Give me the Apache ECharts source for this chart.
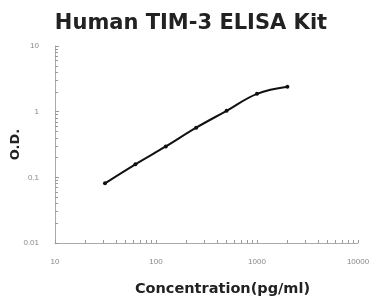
<!DOCTYPE html>
<html><head><meta charset="utf-8">
<script src="https://cdn.jsdelivr.net/npm/echarts@6/dist/echarts.min.js"></script>
<style>html,body{margin:0;padding:0;background:#fff}#c{width:381px;height:299px}</style>
</head><body><div id="c"></div>
<script>
const concentrations = [31.25, 62.5, 125, 250, 500, 1000, 2000];
const odValues = [0.081, 0.158, 0.295, 0.57, 1.03, 1.87, 2.4];
const titleText = 'Human TIM-3 ELISA Kit';
const xName = 'Concentration(pg/ml)';
const yName = 'O.D.';

const chart = echarts.init(document.getElementById('c'), null, {renderer: 'canvas'});
chart.setOption({
  animation: false,
  title: {text: titleText, left: 186, textAlign: 'center', top: 8,
    textStyle: {fontFamily: 'DejaVu Sans', fontWeight: 'bold', fontSize: 21, color: '#222'}},
  grid: {left: 55, right: 23, top: 46, bottom: 56, containLabel: false, outerBoundsMode: 'none'},
  xAxis: {type: 'log', logBase: 10, min: 10, max: 10000,
    name: xName, nameLocation: 'middle', nameGap: 39,
    nameTextStyle: {fontFamily: 'DejaVu Sans', fontWeight: 'bold', fontSize: 14.5, color: '#222', padding: [0, 0, 0, 32]},
    axisLine: {lineStyle: {color: '#aaa', width: 1}},
    axisTick: {show: true, inside: true, length: 3, lineStyle: {color: '#999'}},
    minorTick: {show: true, splitNumber: 9, length: 3, lineStyle: {color: '#999'}},
    axisLabel: {fontFamily: 'Liberation Sans', fontSize: 8, color: '#888', margin: 15,
      formatter: v => String(v)},
    splitLine: {show: false}},
  yAxis: {type: 'log', logBase: 10, min: 0.01, max: 10,
    name: yName, nameLocation: 'middle', nameGap: 33, nameRotate: 90, nameMoveOverlap: false,
    nameTextStyle: {fontFamily: 'DejaVu Sans', fontWeight: 'bold', fontSize: 13, color: '#222'},
    axisLine: {show: true, lineStyle: {color: '#aaa', width: 1}},
    axisTick: {show: true, inside: true, length: 4, lineStyle: {color: '#999'}},
    minorTick: {show: true, splitNumber: 9, length: 3, lineStyle: {color: '#999'}},
    axisLabel: {fontFamily: 'Liberation Sans', fontSize: 8, color: '#888', margin: 16,
      formatter: v => String(v)},
    splitLine: {show: false}},
  series: [{type: 'line', data: concentrations.map((c, i) => [c, odValues[i]]),
    smooth: 0.4, symbol: 'circle', symbolSize: 4,
    lineStyle: {color: '#111', width: 2}, itemStyle: {color: '#111'}}]
});
</script></body></html>
